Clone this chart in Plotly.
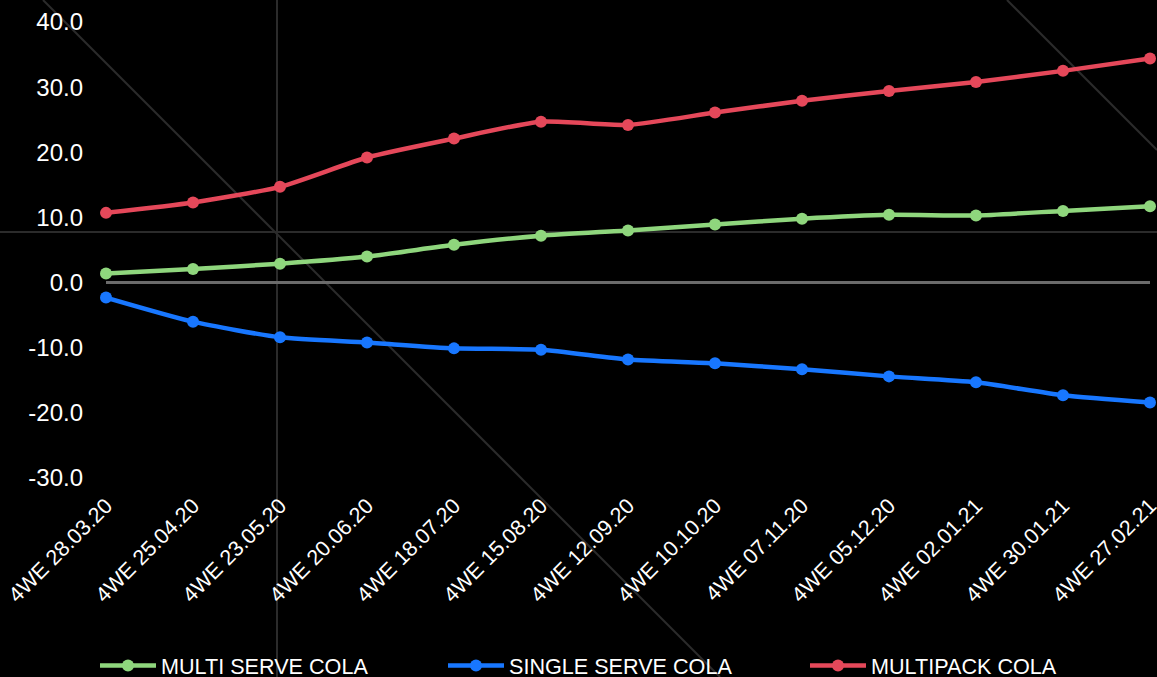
import plotly.graph_objects as go

# Four-week period ending dates
periods = ["4WE 28.03.20", "4WE 25.04.20", "4WE 23.05.20", "4WE 20.06.20",
           "4WE 18.07.20", "4WE 15.08.20", "4WE 12.09.20", "4WE 10.10.20",
           "4WE 07.11.20", "4WE 05.12.20", "4WE 02.01.21", "4WE 30.01.21",
           "4WE 27.02.21"]

multi_serve = [1.4, 2.1, 2.9, 4.0, 5.8, 7.2, 8.0, 8.9, 9.8, 10.4, 10.3, 11.0, 11.7]
single_serve = [-2.3, -6.0, -8.4, -9.2, -10.1, -10.3, -11.8, -12.4, -13.3, -14.4,
                -15.3, -17.3, -18.4]
multipack = [10.7, 12.3, 14.7, 19.2, 22.1, 24.7, 24.2, 26.1, 27.9, 29.4, 30.8,
             32.5, 34.4]

y_ticks = [40, 30, 20, 10, 0, -10, -20, -30]
y_tick_text = [f"{v:.1f}" for v in y_ticks]

W, H = 1157, 677
M_L, M_R, M_T, M_B = 106, 7, 22, 199
PW, PH = W - M_L - M_R, H - M_T - M_B

def px(x):
    return (x - M_L) / PW

def py(y):
    return (H - M_B - y) / PH

FONT = "Liberation Sans, Arial, sans-serif"

series = [
    ("MULTI SERVE COLA", multi_serve, "#8fd67d", "legend", 95),
    ("SINGLE SERVE COLA", single_serve, "#1877ff", "legend2", 443),
    ("MULTIPACK COLA", multipack, "#e5485a", "legend3", 805),
]

fig = go.Figure()
for name, vals, color, leg, _ in series:
    fig.add_trace(go.Scatter(
        x=periods, y=vals, name=name, mode="lines+markers",
        line=dict(color=color, width=4.5, shape="spline", smoothing=0.6),
        marker=dict(color=color, size=12),
        cliponaxis=False, legend=leg,
    ))

# Faint background guide lines
guide = dict(color="#2b2b2b", width=2)
shapes = [
    dict(type="line", xref="paper", yref="paper", x0=px(277), x1=px(277),
         y0=py(0), y1=py(H), line=guide, layer="below"),
    dict(type="line", xref="paper", yref="paper", x0=px(0), x1=px(W),
         y0=py(232), y1=py(232), line=guide, layer="below"),
    dict(type="line", xref="paper", yref="paper", x0=px(43), x1=px(720),
         y0=py(0), y1=py(H), line=guide, layer="below"),
    dict(type="line", xref="paper", yref="paper", x0=px(1007), x1=px(W),
         y0=py(0), y1=py(150), line=guide, layer="below"),
]

legends = {}
for name, _, _, leg, lx in series:
    legends[leg] = dict(
        x=px(lx), xanchor="left", y=py(666), yanchor="middle",
        orientation="h", bgcolor="rgba(0,0,0,0)",
        font=dict(family=FONT, size=21.6, color="#ffffff"),
        itemwidth=56,
    )

fig.update_layout(
    width=W, height=H,
    margin=dict(l=M_L, r=M_R, t=M_T, b=M_B, autoexpand=False),
    paper_bgcolor="#000000", plot_bgcolor="rgba(0,0,0,0)",
    showlegend=True,
    shapes=shapes,
    **legends,
)

fig.update_xaxes(
    type="category", range=[0, len(periods) - 1], automargin=False,
    showgrid=False, zeroline=False, showline=False,
    tickangle=-45, ticks="", ticklabelstandoff=10,
    tickfont=dict(family=FONT, size=21.5, color="#ffffff"),
)
fig.update_yaxes(
    range=[-30, 40], tickvals=y_ticks, ticktext=y_tick_text, automargin=False,
    showgrid=False, zeroline=True, zerolinecolor="#6b6b6b", zerolinewidth=3,
    showline=False, ticks="", ticklabelstandoff=22,
    tickfont=dict(family=FONT, size=24, color="#ffffff"),
)

fig.write_html("out.html")
